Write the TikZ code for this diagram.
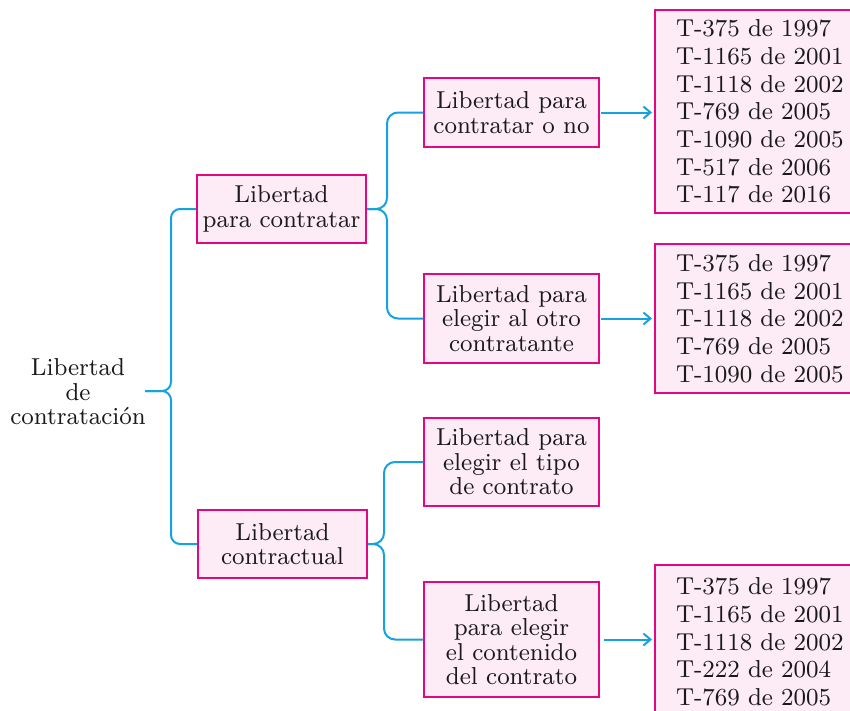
\documentclass[tikz,border=0pt]{standalone}
\usepackage{fontspec}
\setmainfont{lmroman8-regular}[Extension=.otf, FakeStretch=0.96]
\usetikzlibrary{arrows.meta}
\definecolor{boxline}{HTML}{E5077F}
\definecolor{boxfill}{HTML}{FDEBF5}
\definecolor{conncol}{HTML}{16A2E0}
\definecolor{txt}{HTML}{1A1A1A}
\tikzset{
  lbl/.style={font=\fontsize{24.5}{24.5}\selectfont, text=txt, align=center, inner sep=0pt},
  catbox/.style={lbl, draw=boxline, fill=boxfill, line width=2pt},
  listbox/.style={draw=boxline, fill=boxfill, line width=2pt, font=\fontsize{24.5}{27.7}\selectfont,
     text=txt, align=left, inner ysep=0pt, inner xsep=21pt, text width=200pt, anchor=west},
  conn/.style={draw=conncol, line width=2pt, rounded corners=9pt},
  arr/.style={draw=conncol, line width=2pt, -{Straight Barb[length=7pt,width=12pt]}}
}
\begin{document}
\begin{tikzpicture}[x=1pt,y=-1pt]
\useasboundingbox (0,0) rectangle (850,710);
\clip (0,0) rectangle (850,710);

\node[lbl] (root) at (78,392) {Libertad\\de\\contratación};

\node[catbox, minimum width=169pt, minimum height=68pt] (b1) at (281.5,209) {Libertad\\para contratar};
\node[catbox, minimum width=169pt, minimum height=68pt] (b2) at (282.5,544) {Libertad\\contractual};

\node[catbox, minimum width=175pt, minimum height=69pt] (c1) at (511.5,112.5) {Libertad para\\contratar o no};
\node[catbox, minimum width=175pt, minimum height=89pt] (c2) at (511.5,318.5) {Libertad para\\elegir al otro\\contratante};
\node[catbox, minimum width=175pt, minimum height=88pt] (c3) at (511.5,462) {Libertad para\\elegir el tipo\\de contrato};
\node[catbox, minimum width=175pt, minimum height=115pt] (c4) at (511.5,639.5) {Libertad\\para elegir\\el contenido\\del contrato};

\node[listbox, minimum height=203pt] (t1) at (654,111.5) {T-375 de 1997\\T-1165 de 2001\\T-1118 de 2002\\T-769 de 2005\\T-1090 de 2005\\T-517 de 2006\\T-117 de 2016};
\node[listbox, minimum height=149pt] (t2) at (654,318.5) {T-375 de 1997\\T-1165 de 2001\\T-1118 de 2002\\T-769 de 2005\\T-1090 de 2005};
\node[listbox, minimum height=154pt] (t3) at (654,642) {T-375 de 1997\\T-1165 de 2001\\T-1118 de 2002\\T-222 de 2004\\T-769 de 2005};

% braces
\coordinate (j0) at (171,391);
\coordinate (rt) at (145,391);
\draw[conn] (b1.west) -| (j0) -- (rt);
\draw[conn] (b2.west) -| (j0) -- (rt);

\coordinate (j1) at (387,209);
\draw[conn, rounded corners=11pt] (c1.west) -| (j1) -- (b1.east);
\draw[conn, rounded corners=11pt] (c2.west) -| (j1) -- (b1.east);

\coordinate (j2) at (384,544);
\draw[conn, rounded corners=11pt] (c3.west) -| (j2) -- (b2.east);
\draw[conn, rounded corners=11pt] (c4.west) -| (j2) -- (b2.east);

% arrows
\draw[arr, shorten <=1pt, shorten >=2pt] (c1.east) -- (c1.east -| t1.west);
\draw[arr, shorten <=1pt, shorten >=2pt] (c2.east) -- (c2.east -| t2.west);
\draw[arr, shorten <=4pt, shorten >=2pt] (c4.east) -- (c4.east -| t3.west);
\end{tikzpicture}
\end{document}
